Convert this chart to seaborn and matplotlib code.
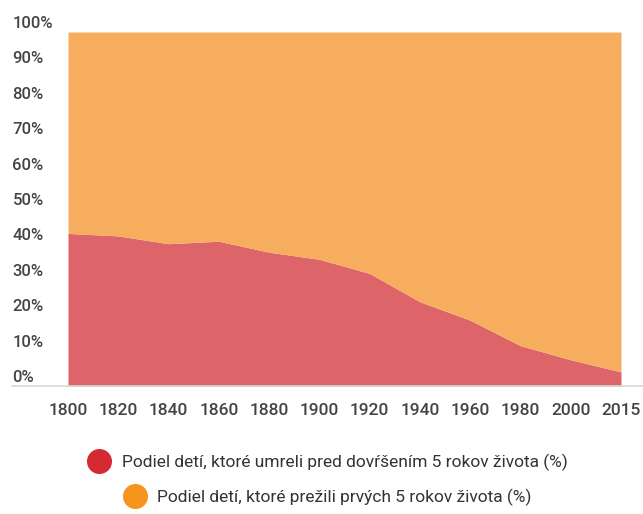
import matplotlib.pyplot as plt
import matplotlib.transforms as mtransforms
from matplotlib.lines import Line2D
import seaborn as sns
import numpy as np

# data
years = ['1800', '1820', '1840', '1860', '1880', '1900', '1920', '1940', '1960', '1980', '2000', '2015']
died = [43.1, 42.4, 40.2, 40.9, 37.8, 35.8, 31.8, 23.8, 18.6, 11.4, 7.4, 4.0]
survived = [56.9, 57.6, 59.8, 59.1, 62.2, 64.2, 68.2, 76.2, 81.4, 88.6, 92.6, 96.0]
yticks = [0, 10, 20, 30, 40, 50, 60, 70, 80, 90, 100]

label_died = 'Podiel detí, ktoré umreli pred dovŕšením 5 rokov života (%)'
label_surv = 'Podiel detí, ktoré prežili prvých 5 rokov života (%)'

sns.set_style('white')
plt.rcParams['font.family'] = ['Roboto', 'DejaVu Sans']

red_area = '#dd6469'
orange_area = '#f6ae5e'
red_dot = '#d42a31'
orange_dot = '#f7941e'
txt = '#444444'

fig = plt.figure(figsize=(6.43, 5.14), dpi=100)
ax = fig.add_axes([68 / 643, 1 - 386 / 514, (621 - 68) / 643, (386 - 32) / 514])

x = np.arange(len(years))
died = np.array(died)
survived = np.array(survived)
ax.fill_between(x, 0, died, color=red_area, linewidth=0)
ax.fill_between(x, died, died + survived, color=orange_area, linewidth=0)

ax.set_xlim(0, len(years) - 1)
ax.set_ylim(0, 100)
sns.despine(ax=ax, left=True, bottom=True, top=True, right=True)

ax.set_xticks(x)
ax.set_xticklabels(years, fontsize=12.5, color=txt, fontweight='medium')
ax.tick_params(axis='x', length=0, pad=12)

ax.set_yticks(yticks)
ax.set_yticklabels([f'{v}%' for v in yticks], fontsize=12, color=txt, ha='left',
                   fontweight='medium')
ax.tick_params(axis='y', length=0, pad=40)
offset = mtransforms.ScaledTranslation(0, 10 / 100, fig.dpi_scale_trans)
for lab in ax.get_yticklabels():
    lab.set_transform(lab.get_transform() + offset)

# base line under the chart
ax.axhline(0, xmin=-0.101, xmax=1.05, color='#d8d8d8', linewidth=1.2, clip_on=False)

h1 = Line2D([], [], marker='o', linestyle='', markersize=17, color=red_dot, label=label_died)
h2 = Line2D([], [], marker='o', linestyle='', markersize=17, color=orange_dot, label=label_surv)
for h, yc in [(h1, 1 - 462 / 514), (h2, 1 - 497 / 514)]:
    fig.legend(handles=[h], loc='center', bbox_to_anchor=(328 / 643, yc), frameon=False,
               fontsize=12.5, handletextpad=0.7, handlelength=1.2, labelcolor='#333333')

fig.savefig('out.png', dpi=100)
